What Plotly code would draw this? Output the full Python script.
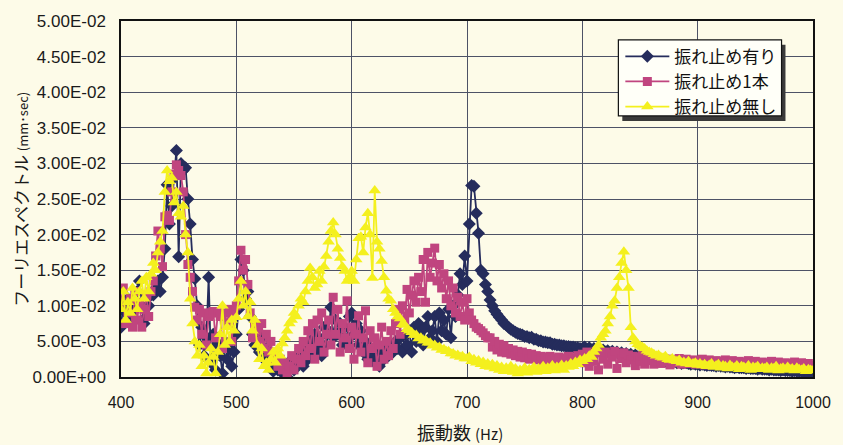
import numpy as np
import plotly.graph_objects as go

# Frequency axis (Hz), sampled every 2 Hz
freq = np.arange(400, 1001, 2)

# Fourier spectrum amplitude, in units of 1e-3 mm·sec
# 振れ止め有り
with_stop = (
    [7.0, 10.5, 9.0, 11.0, 8.5, 9.5, 8.0, 12.0, 13.5, 10.0]
    + [7.5, 8.5, 10.0, 11.5, 11.5, 12.5, 13.5, 12.0, 14.0, 18.0]
    + [27.0, 21.5, 24.0, 28.0, 31.8, 16.9, 30.0, 29.0, 29.4, 25.0]
    + [21.5, 16.5, 13.8, 10.0, 4.5, 7.0, 3.0, 5.5, 14.0, 2.0]
    + [6.0, 1.0, 4.5, 3.0, 0.5, 5.0, 2.5, 4.0, 1.5, 3.5]
    + [6.0, 9.5, 16.5, 15.0, 11.0, 12.0, 8.5, 6.0, 4.5, 7.0]
    + [3.5, 5.5, 2.5, 4.0, 1.5, 3.0, 0.8, 2.0, 1.0, 2.5]
    + [1.0, 0.2, 0.0, 1.5, 2.5, 1.0, 3.0, 2.0, 4.0, 1.5]
    + [3.5, 2.5, 5.0, 3.0, 6.0, 4.0, 5.5, 3.0, 7.0, 4.5]
    + [6.5, 9.8, 5.5, 8.0, 6.0, 7.5, 4.5, 7.0, 5.0, 8.5]
    + [9.0, 6.0, 7.5, 4.5, 6.5, 3.5, 5.0, 2.5, 4.0, 3.0]
    + [2.0, 3.5, 1.5, 3.0, 2.5, 4.0, 3.0, 4.5, 3.5, 5.0]
    + [4.0, 5.5, 3.5, 6.0, 4.5, 6.5, 3.5, 7.0, 5.0, 7.5]
    + [6.5, 4.5, 7.0, 8.5, 5.5, 6.5, 8.5, 5.0, 9.0, 6.5]
    + [8.0, 6.0, 9.5, 5.5, 10.0, 8.5, 11.5, 14.5, 13.0, 17.0]
    + [13.5, 21.5, 26.9, 26.8, 23.0, 20.2, 15.0, 14.5, 13.0, 12.0]
    + [10.8, 10.0, 9.3, 8.8, 8.4, 8.0, 7.5, 7.3, 7.0, 6.7]
    + [6.5, 6.3, 6.1, 6.0, 5.9, 5.7, 5.7, 5.5, 5.6, 5.3]
    + [5.3, 5.1, 5.1, 4.9, 4.9, 4.8, 4.8, 4.6, 4.6, 4.5]
    + [4.5, 4.4, 4.4, 4.3, 4.3, 4.2, 4.2, 4.1, 4.1, 4.0]
    + [4.0, 4.2, 3.9, 4.1, 3.8, 4.0, 3.7, 3.9, 3.6, 3.8]
    + [3.5, 3.7, 3.4, 3.6, 3.3, 3.5, 3.2, 3.4, 3.1, 3.3]
    + [3.0, 3.2, 2.9, 3.1, 2.8, 3.0, 2.7, 2.9, 2.6, 2.8]
    + [2.5, 2.6, 2.4, 2.5, 2.3, 2.4, 2.2, 2.3, 2.2, 2.1]
    + [2.2, 2.0, 2.1, 1.9, 2.0, 2.0, 1.9, 1.8, 1.9, 1.8]
    + [1.8, 1.7, 1.8, 1.7, 1.6, 1.7, 1.6, 1.6, 1.5, 1.6]
    + [1.5, 1.5, 1.4, 1.5, 1.4, 1.4, 1.3, 1.4, 1.3, 1.3]
    + [1.3, 1.2, 1.3, 1.2, 1.2, 1.2, 1.1, 1.2, 1.1, 1.1]
    + [1.1, 1.0, 1.1, 1.0, 1.0, 1.0, 0.9, 1.0, 0.9, 0.9]
    + [0.9, 0.8, 0.9, 0.8, 0.8, 0.8, 0.7, 0.8, 0.7, 0.7]
    + [0.7]
)

# 振れ止め1本
one_stop = (
    [10.5, 12.5, 7.5, 9.0, 11.0, 7.0, 12.0, 8.0, 10.5, 7.0]
    + [9.5, 11.5, 8.5, 12.0, 13.5, 17.0, 20.5, 18.0, 15.5, 22.5]
    + [22.7, 22.0, 26.0, 28.5, 29.8, 29.0, 28.3, 26.0, 20.0, 15.8]
    + [14.0, 12.0, 9.8, 8.0, 9.5, 6.0, 9.0, 4.5, 8.5, 9.0]
    + [9.2, 5.5, 9.0, 8.5, 4.0, 9.0, 7.5, 9.5, 5.0, 9.0]
    + [10.0, 13.5, 17.8, 15.0, 16.5, 13.0, 9.0, 5.5, 7.0, 6.5]
    + [5.0, 7.5, 4.0, 6.0, 3.5, 5.0, 2.5, 3.5, 1.5, 2.5]
    + [1.0, 2.0, 0.5, 1.5, 3.0, 1.0, 2.5, 4.0, 2.0, 5.0]
    + [3.0, 6.5, 4.0, 7.5, 2.5, 8.0, 5.0, 9.0, 3.5, 6.0]
    + [8.0, 4.5, 11.2, 6.0, 9.5, 3.5, 7.5, 5.5, 10.7, 4.0]
    + [7.0, 2.5, 6.0, 8.6, 3.5, 5.5, 9.3, 2.0, 6.5, 4.0]
    + [5.5, 1.5, 4.5, 7.0, 2.5, 5.0, 3.0, 6.5, 4.0, 7.5]
    + [9.5, 6.0, 10.0, 8.0, 12.3, 9.0, 11.5, 13.5, 10.5, 14.0]
    + [12.0, 16.5, 10.5, 17.5, 14.0, 16.0, 18.1, 13.5, 15.8, 12.5]
    + [14.5, 11.0, 13.5, 10.0, 12.5, 9.0, 11.2, 8.5, 10.5, 8.0]
    + [11.0, 9.0, 8.0, 7.5, 7.0, 6.8, 6.5, 6.2, 5.8, 5.5]
    + [5.5, 4.2, 5.0, 3.8, 4.6, 3.5, 4.4, 3.4, 4.0, 3.2]
    + [3.8, 3.0, 3.6, 2.8, 3.5, 2.7, 3.3, 2.5, 3.2, 2.6]
    + [3.0, 2.4, 2.9, 2.3, 2.8, 2.2, 2.9, 2.4, 2.7, 2.3]
    + [2.8, 2.2, 2.6, 2.4, 2.9, 2.1, 2.7, 2.5, 3.0, 2.4]
    + [3.2, 2.0, 3.5, 1.5, 3.3, 2.2, 3.6, 1.0, 3.4, 2.5]
    + [3.5, 1.8, 3.2, 2.8, 3.6, 1.2, 3.3, 2.6, 3.4, 2.0]
    + [3.1, 2.4, 2.9, 1.6, 2.8, 2.2, 3.0, 1.8, 2.6, 2.3]
    + [2.5, 1.8, 2.3, 2.6, 1.9, 2.4, 2.1, 2.5, 1.7, 2.3]
    + [2.4, 2.0, 2.6, 1.8, 2.3, 2.5, 1.9, 2.2, 2.4, 1.8]
    + [2.3, 2.1, 2.5, 1.7, 2.2, 2.4, 1.9, 2.1, 2.3, 1.8]
    + [2.2, 2.0, 2.4, 1.6, 2.1, 2.3, 1.8, 2.0, 2.2, 1.7]
    + [2.1, 1.9, 2.3, 1.5, 2.0, 2.2, 1.7, 1.9, 2.1, 1.6]
    + [2.0, 1.8, 2.2, 1.5, 1.9, 2.1, 1.6, 1.8, 2.0, 1.5]
    + [1.9, 1.7, 2.1, 1.4, 1.8, 2.0, 1.5, 1.7, 1.9, 1.4]
    + [1.6]
)

# 振れ止め無し
no_stop = (
    [9.5, 12.0, 8.0, 10.5, 9.0, 12.5, 11.0, 9.5, 12.0, 13.5]
    + [11.0, 14.0, 12.0, 14.5, 16.0, 15.0, 17.5, 19.0, 20.5, 26.0]
    + [29.0, 27.5, 28.0, 24.5, 26.0, 23.0, 22.5, 24.0, 20.0, 17.5]
    + [11.0, 7.5, 5.0, 3.0, 4.5, 1.5, 3.0, 0.5, 2.0, 4.0]
    + [2.8, 0.5, 3.5, 6.0, 10.0, 4.5, 7.0, 5.0, 8.0, 6.5]
    + [8.4, 11.0, 13.5, 10.0, 12.0, 8.5, 10.5, 6.5, 8.0, 4.5]
    + [2.5, 4.0, 1.5, 2.0, 1.0, 2.5, 3.5, 2.0, 4.0, 3.0]
    + [4.7, 5.5, 6.5, 7.5, 8.0, 9.0, 8.5, 10.0, 11.0, 10.5]
    + [12.0, 13.5, 15.3, 14.0, 12.5, 13.0, 14.9, 13.5, 15.5, 17.0]
    + [19.0, 20.5, 21.7, 20.0, 18.0, 16.7, 15.5, 14.9, 13.5, 14.0]
    + [14.9, 13.5, 16.5, 19.5, 19.7, 17.5, 21.0, 23.0, 20.0, 13.9]
    + [26.2, 19.0, 18.0, 16.3, 14.0, 12.1, 11.0, 10.7, 9.5, 9.0]
    + [8.5, 8.2, 7.4, 7.3, 6.7, 6.5, 6.3, 5.9, 5.9, 5.4]
    + [5.5, 5.1, 5.2, 4.8, 4.8, 4.4, 4.5, 4.1, 4.2, 3.8]
    + [3.9, 3.6, 3.6, 3.3, 3.3, 3.0, 3.1, 2.8, 2.9, 2.6]
    + [2.6, 2.8, 2.2, 2.5, 2.0, 2.3, 1.8, 2.1, 1.5, 1.9]
    + [1.4, 1.8, 1.2, 1.6, 1.0, 1.4, 0.8, 1.3, 0.9, 1.5]
    + [0.7, 1.2, 0.5, 1.0, 0.8, 1.3, 0.6, 1.1, 0.9, 1.4]
    + [0.7, 1.2, 1.0, 1.5, 0.8, 1.3, 1.1, 1.6, 0.9, 1.4]
    + [1.2, 1.7, 1.0, 1.6, 1.4, 1.9, 1.5, 2.1, 1.8, 2.4]
    + [2.2, 2.6, 2.5, 3.0, 2.8, 3.5, 4.0, 4.5, 5.5, 6.0]
    + [6.5, 7.5, 8.5, 10.0, 10.7, 12.5, 14.0, 16.0, 17.6, 15.0]
    + [12.5, 7.0, 5.5, 5.0, 4.6, 4.4, 4.2, 4.0, 3.7, 3.5]
    + [3.4, 3.2, 3.0, 3.1, 2.8, 2.7, 2.9, 2.5, 2.4, 2.6]
    + [2.3, 2.2, 2.4, 2.0, 2.1, 1.9, 2.2, 1.8, 1.9, 2.0]
    + [1.7, 1.9, 1.6, 1.8, 1.5, 1.7, 1.9, 1.4, 1.6, 1.8]
    + [1.3, 1.6, 1.5, 1.2, 1.7, 1.4, 1.3, 1.6, 1.1, 1.5]
    + [1.4, 1.2, 1.6, 1.0, 1.4, 1.3, 1.5, 1.1, 1.3, 1.2]
    + [1.4, 1.0, 1.3, 1.2, 1.5, 0.9, 1.2, 1.3, 1.0, 1.4]
    + [1.1, 1.2, 0.9, 1.3, 1.1, 1.0, 1.2, 0.8, 1.1, 1.0]
    + [0.9]
)

series_names = ["振れ止め有り", "振れ止め1本", "振れ止め無し"]
series_values = [with_stop, one_stop, no_stop]
series_colors = ["#252c5c", "#c0457f", "#f4f01e"]
series_symbols = ["diamond", "square", "triangle-up"]
series_sizes = [10, 9, 11]

y_tick_vals = [0.0, 0.005, 0.01, 0.015, 0.02, 0.025, 0.03, 0.035, 0.04, 0.045, 0.05]
y_tick_text = ["0.00E+00", "5.00E-03", "1.00E-02", "1.50E-02", "2.00E-02", "2.50E-02",
               "3.00E-02", "3.50E-02", "4.00E-02", "4.50E-02", "5.00E-02"]
x_tick_vals = [400, 500, 600, 700, 800, 900, 1000]

JP_FONT = "Noto Sans CJK JP"
NUM_FONT = "Liberation Sans"
BG = "#fdfbe8"

# plot area in pixels: x 121..825, y 17..377
PL, PW, PB, PH = 121, 704, 377, 360


def px(x):
    return (x - PL) / PW


def py(y):
    return (PB - y) / PH


fig = go.Figure()
for name, vals, color, sym, size in zip(series_names, series_values, series_colors,
                                         series_symbols, series_sizes):
    fig.add_trace(go.Scatter(
        x=freq,
        y=np.array(vals) * 1e-3,
        name=name,
        mode="lines+markers",
        line=dict(color=color, width=1.8),
        marker=dict(symbol=sym, size=size, color=color, line=dict(width=0)),
    ))

# legend frame with a drop shadow
fig.add_shape(type="rect", xref="paper", yref="paper",
              x0=px(631), x1=px(797), y0=py(118), y1=py(41),
              fillcolor="#3a3a3a", line=dict(width=0), layer="above")
fig.add_shape(type="rect", xref="paper", yref="paper",
              x0=px(627), x1=px(793), y0=py(113), y1=py(36),
              fillcolor="#fffff8", line=dict(color="#111111", width=1.2), layer="above")

fig.update_layout(
    width=843, height=445,
    margin=dict(l=PL, r=843 - PL - PW, t=PB - PH, b=445 - PB),
    paper_bgcolor=BG,
    plot_bgcolor=BG,
    showlegend=True,
    legend=dict(
        x=px(629), y=py(35),
        xanchor="left", yanchor="top",
        bgcolor="rgba(0,0,0,0)", borderwidth=0,
        font=dict(family=JP_FONT, size=17, color="#111111"),
        itemwidth=44, tracegroupgap=0,
    ),
    xaxis=dict(
        range=[400, 1000], tickvals=x_tick_vals,
        showgrid=True, gridcolor="#4d5266", gridwidth=1,
        showline=True, linecolor="#111111", linewidth=1.5, mirror=True,
        zeroline=False, ticks="",
        tickfont=dict(family=NUM_FONT, size=16, color="#1a1a1a"),
        ticklabelstandoff=10,
    ),
    yaxis=dict(
        range=[0, 0.05], tickvals=y_tick_vals, ticktext=y_tick_text,
        showgrid=True, gridcolor="#4d5266", gridwidth=1,
        showline=True, linecolor="#111111", linewidth=1.5, mirror=True,
        zeroline=False, ticks="",
        tickfont=dict(family=NUM_FONT, size=17, color="#1a1a1a"),
        ticklabelstandoff=10,
    ),
    annotations=[
        dict(text="フーリエスペクトル <span style='font-size:13px'>(mm･sec)</span>",
             xref="paper", yref="paper", x=px(18), y=0.5,
             xanchor="center", yanchor="middle", textangle=-90, showarrow=False,
             font=dict(family=JP_FONT, size=17, color="#1a1a1a")),
        dict(text="振動数 <span style='font-size:15px'>(Hz)</span>",
             xref="paper", yref="paper", x=px(466), y=py(433),
             xanchor="center", yanchor="middle", showarrow=False,
             font=dict(family=JP_FONT, size=18, color="#1a1a1a")),
    ],
)

fig.write_html("out.html")
